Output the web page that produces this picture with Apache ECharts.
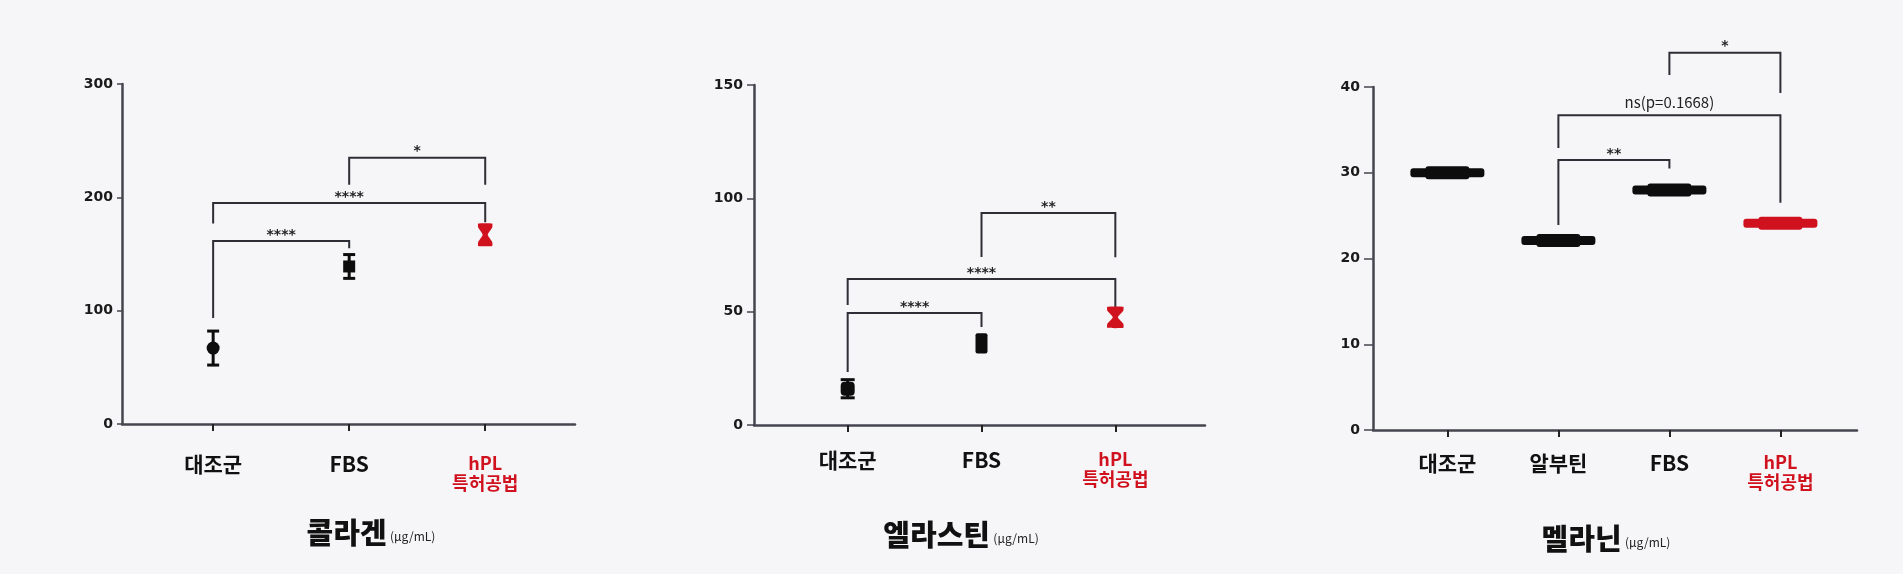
<!DOCTYPE html>
<html>
<head>
<meta charset="utf-8">
<script src="https://cdn.jsdelivr.net/npm/echarts@6.0.0/dist/echarts.min.js"></script>
<style>
html,body{margin:0;padding:0;background:#f6f6f8;}
#c{width:1903px;height:574px;}
</style>
</head>
<body>
<div id="c"></div>
<script>
// ---------- data ----------
var collagenCats = ['대조군', 'FBS', 'hPL\n특허공법'];
var collagenMean = [67, 139, 167];
var collagenSD = [15, 10.5, 9];
var collagenTicks = [0, 100, 200, 300];
var collagenBrackets = [
  [0, 1, 161.5, 93.5, 155, '****'],
  [0, 2, 195, 177, 178, '****'],
  [1, 2, 235, 211, 211, '*']
];

var elastinCats = ['대조군', 'FBS', 'hPL\n특허공법'];
var elastinMean = [16, 36, 47.5];
var elastinSD = [4, 4, 4.2];
var elastinTicks = [0, 50, 100, 150];
var elastinBrackets = [
  [0, 1, 49.4, 23.4, 43.2, '****'],
  [0, 2, 64.4, 52.9, 52, '****'],
  [1, 2, 93.5, 74.1, 74, '**']
];

var melaninCats = ['대조군', '알부틴', 'FBS', 'hPL\n특허공법'];
var melaninMean = [30, 22.1, 28, 24.1];
var melaninSD = [0.4, 0.4, 0.4, 0.4];
var melaninTicks = [0, 10, 20, 30, 40];
var melaninBrackets = [
  [1, 2, 31.5, 23.9, 30.5, '**'],
  [1, 3, 36.7, 32.9, 26.5, 'ns(p=0.1668)'],
  [2, 3, 44, 41.4, 39.3, '*']
];

// ---------- styles ----------
var RED = '#d0121f';
var BLACK = '#0d0d0d';
var AXIS = '#45454f';
var FONT = 'Noto Sans CJK KR';

function isRed(cats, i) { return cats[i].indexOf('hPL') === 0; }

function catLabel(cats) {
  return function (v) {
    var i = Math.round(v);
    var name = cats[i];
    if (name === undefined) return '';
    if (isRed(cats, i)) {
      return name.split('\n').map(function (s) { return '{r|' + s + '}'; }).join('\n');
    }
    return '{k|' + name + '}';
  };
}

function makeX(idx, cats, min, max, margin) {
  var vals = cats.map(function (c, i) { return i; });
  return {
    type: 'value', gridIndex: idx, min: min, max: max,
    splitLine: { show: false },
    axisLine: { show: true, onZero: false, lineStyle: { color: AXIS, width: 2.5 } },
    axisTick: { show: true, customValues: vals, length: 7, lineStyle: { color: '#222', width: 2 } },
    axisLabel: {
      customValues: vals, margin: margin, formatter: catLabel(cats),
      rich: {
        k: { fontFamily: FONT, fontSize: 21, fontWeight: 'bold', color: '#111', lineHeight: 22 },
        r: { fontFamily: FONT, fontSize: 18, fontWeight: 'bold', color: RED, lineHeight: 20 }
      }
    }
  };
}

function makeY(idx, ticks, tickLen) {
  return {
    type: 'value', gridIndex: idx, min: ticks[0], max: ticks[ticks.length - 1],
    interval: ticks[1] - ticks[0],
    splitLine: { show: false },
    axisLine: { show: true, onZero: false, lineStyle: { color: AXIS, width: 2.5 } },
    axisTick: { show: true, length: tickLen, lineStyle: { color: AXIS, width: 1.5 } },
    axisLabel: { margin: tickLen + 4, fontFamily: 'DejaVu Sans', fontWeight: 'bold', fontSize: 14, color: '#1a1a1a' }
  };
}

function errSeries(idx, cats, means, sds, shapes, capHalf) {
  var data = means.map(function (m, i) { return [i, m, sds[i]]; });
  return {
    type: 'custom', xAxisIndex: idx, yAxisIndex: idx, z: 5,
    data: data,
    renderItem: function (params, api) {
      var i = params.dataIndex;
      var x = api.value(0), m = api.value(1), sd = api.value(2);
      var pm = api.coord([x, m]), ph = api.coord([x, m + sd]), pl = api.coord([x, m - sd]);
      var c = isRed(cats, i) ? RED : BLACK;
      var shape = shapes[i];
      var ch = [];
      var cx = pm[0];
      if (shape === 'hourglass') {
        var w = capHalf + 1;
        ch.push({ type: 'polygon', shape: { points: [
          [cx - w, ph[1] - 1], [cx + w, ph[1] - 1], [cx + w, ph[1] + 3], [cx + 2.5, pm[1]],
          [cx + w, pl[1] - 3], [cx + w, pl[1] + 1], [cx - w, pl[1] + 1], [cx - w, pl[1] - 3],
          [cx - 2.5, pm[1]], [cx - w, ph[1] + 3]
        ], smooth: 0.15 }, style: { fill: c } });
      } else if (shape === 'bar') {
        ch.push({ type: 'rect', shape: { x: cx - 37, y: pm[1] - 4.5, width: 74, height: 9, r: 3 }, style: { fill: c } });
        ch.push({ type: 'rect', shape: { x: cx - 22, y: Math.min(ph[1], pm[1] - 6.5), width: 44, height: Math.max(pl[1] - ph[1], 13), r: 3 }, style: { fill: c } });
      } else if (shape === 'rect') {
        ch.push({ type: 'rect', shape: { x: cx - 6, y: ph[1] - 1, width: 12, height: pl[1] - ph[1] + 2, r: 2 }, style: { fill: c } });
      } else {
        var ls = { stroke: c, lineWidth: 3 };
        ch.push({ type: 'line', shape: { x1: cx, y1: ph[1], x2: cx, y2: pl[1] }, style: ls });
        ch.push({ type: 'line', shape: { x1: cx - capHalf, y1: ph[1], x2: cx + capHalf, y2: ph[1] }, style: ls });
        ch.push({ type: 'line', shape: { x1: cx - capHalf, y1: pl[1], x2: cx + capHalf, y2: pl[1] }, style: ls });
        if (shape === 'circle') {
          ch.push({ type: 'circle', shape: { cx: cx, cy: pm[1], r: 6.5 }, style: { fill: c } });
        } else if (shape === 'square') {
          ch.push({ type: 'rect', shape: { x: cx - 6, y: pm[1] - 6, width: 12, height: 12 }, style: { fill: c } });
        } else if (shape === 'blob') {
          ch.push({ type: 'rect', shape: { x: cx - 7, y: pm[1] - 7, width: 14, height: 14, r: 4 }, style: { fill: c } });
        }
      }
      return { type: 'group', children: ch };
    }
  };
}

function bracketSeries(idx, list, fontSizeStar) {
  var data = list.map(function (b) { return [b[0], b[1], b[2], b[3], b[4]]; });
  return {
    type: 'custom', xAxisIndex: idx, yAxisIndex: idx, z: 4, clip: false,
    data: data,
    renderItem: function (params, api) {
      var b = list[params.dataIndex];
      var pTL = api.coord([b[0], b[2]]), pTR = api.coord([b[1], b[2]]);
      var pL = api.coord([b[0], b[3]]), pR = api.coord([b[1], b[4]]);
      var ls = { stroke: '#2e2e36', lineWidth: 2, fill: null };
      var isNs = b[5].indexOf('ns') === 0;
      return { type: 'group', children: [
        { type: 'polyline', shape: { points: [[pL[0], pL[1]], [pTL[0], pTL[1]], [pTR[0], pTR[1]], [pR[0], pR[1]]] }, style: ls },
        { type: 'text', x: (pTL[0] + pTR[0]) / 2, y: pTL[1] - (isNs ? 6 : -1),
          style: { text: b[5], fill: '#222', fontFamily: isNs ? FONT : 'DejaVu Sans',
            fontSize: isNs ? 15 : fontSizeStar, fontWeight: isNs ? 'normal' : 'bold',
            align: 'center', verticalAlign: 'bottom' } }
      ] };
    }
  };
}

function titleText(x, y, main) {
  return {
    type: 'text', x: x, y: y,
    style: {
      text: '{a|' + main + '} {b|(μg/mL)}',
      align: 'center', verticalAlign: 'middle',
      rich: {
        a: { fontFamily: FONT, fontSize: 29, fontWeight: 900, fill: '#111', lineHeight: 36 },
        b: { fontFamily: FONT, fontSize: 12, fill: '#222', lineHeight: 36, verticalAlign: 'middle', padding: [6, 0, 0, 0] }
      }
    }
  };
}

var chart = echarts.init(document.getElementById('c'));
chart.setOption({
  backgroundColor: '#f6f6f8',
  animation: false,
  grid: [
    { left: 122, top: 84, width: 453, height: 340, containLabel: false, outerBoundsMode: 'none' },
    { left: 754, top: 85, width: 451, height: 340, containLabel: false, outerBoundsMode: 'none' },
    { left: 1373, top: 87, width: 484, height: 343, containLabel: false, outerBoundsMode: 'none' }
  ],
  xAxis: [
    makeX(0, collagenCats, -0.67, 2.66, 29),
    makeX(1, elastinCats, -0.70, 2.67, 24),
    makeX(2, melaninCats, -0.67, 3.69, 22)
  ],
  yAxis: [
    makeY(0, collagenTicks, 5),
    makeY(1, elastinTicks, 7),
    makeY(2, melaninTicks, 9)
  ],
  series: [
    errSeries(0, collagenCats, collagenMean, collagenSD, ['circle', 'square', 'hourglass'], 6),
    errSeries(1, elastinCats, elastinMean, elastinSD, ['blob', 'rect', 'hourglass'], 7),
    errSeries(2, melaninCats, melaninMean, melaninSD, ['bar', 'bar', 'bar', 'bar'], 6),
    bracketSeries(0, collagenBrackets, 14),
    bracketSeries(1, elastinBrackets, 14),
    bracketSeries(2, melaninBrackets, 14)
  ],
  graphic: [
    titleText(371, 533, '콜라겐'),
    titleText(961, 535, '엘라스틴'),
    titleText(1606, 539, '멜라닌')
  ]
});
</script>
</body>
</html>
